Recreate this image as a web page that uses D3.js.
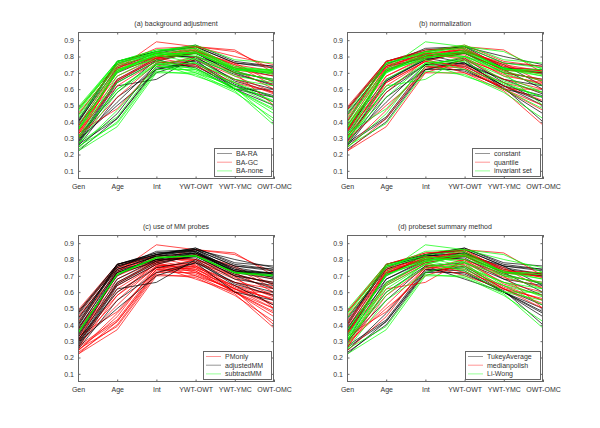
<!DOCTYPE html>
<html><head><meta charset="utf-8">
<script src="https://cdn.jsdelivr.net/npm/d3@7"></script>
<style>body{margin:0;background:#fff}svg{display:block}text{font-family:"Liberation Sans",Arial,Helvetica,sans-serif;font-size:7px;fill:#333}</style>
</head><body><svg id="c" width="600" height="428"></svg>
<script>
const categories = ["Gen","Age","Int","YWT-OWT","YWT-YMC","OWT-OMC"];
const yTicks = [0.1,0.2,0.3,0.4,0.5,0.6,0.7,0.8,0.9];

// one row per preprocessing combination: values at the six categories
const lineValues = [
 [0.40,0.77,0.83,0.86,0.76,0.74],
 [0.41,0.77,0.83,0.87,0.77,0.74],
 [0.39,0.76,0.82,0.86,0.76,0.73],
 [0.48,0.77,0.84,0.86,0.73,0.72],
 [0.47,0.77,0.84,0.85,0.72,0.71],
 [0.46,0.76,0.83,0.85,0.72,0.72],
 [0.33,0.72,0.80,0.84,0.73,0.70],
 [0.34,0.73,0.80,0.85,0.74,0.69],
 [0.32,0.71,0.79,0.84,0.72,0.68],
 [0.28,0.65,0.78,0.82,0.70,0.66],
 [0.27,0.64,0.77,0.83,0.71,0.65],
 [0.30,0.68,0.80,0.81,0.68,0.64],
 [0.26,0.62,0.66,0.80,0.65,0.58],
 [0.25,0.55,0.72,0.78,0.60,0.55],
 [0.36,0.70,0.83,0.87,0.78,0.76],
 [0.44,0.75,0.85,0.86,0.80,0.75],
 [0.31,0.60,0.75,0.79,0.64,0.52],
 [0.29,0.50,0.70,0.78,0.66,0.60],
 [0.30,0.72,0.89,0.86,0.83,0.72],
 [0.48,0.75,0.80,0.86,0.84,0.70],
 [0.45,0.74,0.79,0.83,0.75,0.62],
 [0.38,0.68,0.79,0.83,0.76,0.64],
 [0.36,0.66,0.78,0.82,0.72,0.60],
 [0.33,0.48,0.74,0.80,0.70,0.50],
 [0.30,0.55,0.76,0.78,0.68,0.58],
 [0.26,0.42,0.72,0.76,0.62,0.52],
 [0.22,0.42,0.73,0.75,0.60,0.50],
 [0.24,0.45,0.76,0.77,0.63,0.55],
 [0.28,0.52,0.75,0.74,0.62,0.56],
 [0.31,0.58,0.78,0.73,0.60,0.60],
 [0.23,0.40,0.72,0.72,0.60,0.45],
 [0.22,0.37,0.70,0.70,0.59,0.38],
 [0.25,0.39,0.71,0.69,0.58,0.42],
 [0.27,0.43,0.74,0.71,0.61,0.40],
 [0.35,0.64,0.77,0.70,0.62,0.53],
 [0.42,0.72,0.78,0.72,0.64,0.55],
 [0.47,0.76,0.81,0.76,0.66,0.62],
 [0.49,0.77,0.82,0.78,0.70,0.66],
 [0.37,0.70,0.80,0.80,0.73,0.68],
 [0.29,0.60,0.76,0.68,0.60,0.48],
 [0.32,0.65,0.79,0.75,0.66,0.57],
 [0.40,0.73,0.82,0.79,0.69,0.63],
 [0.35,0.71,0.81,0.82,0.72,0.70],
 [0.345,0.712,0.815,0.822,0.716,0.698],
 [0.356,0.706,0.808,0.826,0.722,0.706],
 [0.43,0.74,0.82,0.84,0.74,0.71],
 [0.38,0.72,0.81,0.83,0.73,0.69],
 [0.26,0.58,0.75,0.76,0.62,0.50],
 [0.34,0.62,0.77,0.74,0.64,0.58],
 [0.44,0.75,0.83,0.80,0.71,0.65],
 [0.29,0.66,0.79,0.82,0.70,0.62],
 [0.37,0.74,0.82,0.84,0.75,0.71],
 [0.24,0.47,0.74,0.73,0.60,0.47]
];
const baFactor   = ["RA","RA","RA","none","none","none","GC","GC","GC","RA","RA","none","RA","RA","none","GC","none","RA",
                    "GC","GC","GC","GC","GC","GC","GC","RA","RA","RA","RA","RA","none","none","none","none","none","none","none","none","RA","none","GC","RA",
                    "none","none","none",
                    "none","none","none","GC","none","RA","GC","none"];
const normFactor = ["constant","quantile","invariant","constant","quantile","invariant","constant","quantile","invariant","constant","quantile","quantile","invariant","constant","invariant","constant","constant","quantile",
                    "invariant","quantile","constant","quantile","constant","invariant","invariant","constant","quantile","invariant","constant","quantile","constant","quantile","invariant","constant","quantile","invariant","constant","quantile","invariant","invariant","constant","quantile",
                    "constant","quantile","invariant",
                    "quantile","invariant","constant","quantile","invariant","invariant","quantile","quantile"];
const pmFactor   = ["adj","adj","adj","adj","adj","adj","adj","adj","adj","adj","adj","adj","adj","adj","adj","adj","adj","adj",
                    "pm","pm","pm","pm","pm","pm","pm","pm","pm","pm","pm","pm","pm","pm","pm","pm","pm","pm","pm","pm","pm","pm","pm","pm",
                    "sub","sub","sub",
                    "adj","adj","pm","pm","pm","adj","adj","pm"];
const summFactor = ["tukey","tukey","tukey","mp","mp","lw","tukey","mp","lw","mp","lw","tukey","mp","lw","tukey","lw","lw","mp",
                    "lw","mp","mp","tukey","tukey","mp","tukey","tukey","tukey","mp","mp","lw","tukey","lw","lw","tukey","mp","mp","lw","lw","lw","tukey","lw","mp",
                    "tukey","mp","lw",
                    "tukey","mp","mp","lw","tukey","lw","tukey","tukey"];

const panelTitles = ["(a) background adjustment","(b) normalization","(c) use of MM probes","(d) probeset summary method"];
const legendKeysA = ["RA","GC","none"];           const legendLabelsA = ["BA-RA","BA-GC","BA-none"];
const legendKeysB = ["constant","quantile","invariant"]; const legendLabelsB = ["constant","quantile","invariant set"];
const legendKeysC = ["pm","adj","sub"];           const legendLabelsC = ["PMonly","adjustedMM","subtractMM"];
const legendKeysD = ["tukey","mp","lw"];          const legendLabelsD = ["TukeyAverage","medianpolish","Li-Wong"];
const colorsA = ["#000","#ff0000","#00ff00"];
const colorsB = ["#000","#ff0000","#00ff00"];
const colorsC = ["#ff0000","#000","#00ff00"];
const colorsD = ["#000","#ff0000","#00ff00"];

const panels = [
  {title:panelTitles[0], f:baFactor,   keys:legendKeysA, labels:legendLabelsA, colors:colorsA, x:78,  y:32},
  {title:panelTitles[1], f:normFactor, keys:legendKeysB, labels:legendLabelsB, colors:colorsB, x:347, y:32},
  {title:panelTitles[2], f:pmFactor,   keys:legendKeysC, labels:legendLabelsC, colors:colorsC, x:78,  y:235},
  {title:panelTitles[3], f:summFactor, keys:legendKeysD, labels:legendLabelsD, colors:colorsD, x:347, y:235}
];
const W = 196, H = 147;
const svg = d3.select("#c");
const x = d3.scalePoint().domain(categories).range([0, W]);
const y = d3.scaleLinear().domain([0.05, 0.95]).range([H, 0]);
const line = d3.line().x((d,i)=>x(categories[i])).y(d=>y(d));

panels.forEach((p,pi)=>{
  const g = svg.append("g").attr("transform",`translate(${p.x},${p.y})`);
  g.append("clipPath").attr("id","clip"+pi).append("rect").attr("width",W).attr("height",H);
  const lg = g.append("g").attr("clip-path",`url(#clip${pi})`);
  p.keys.forEach((k,ki)=>{
    lineValues.forEach((vals,li)=>{
      if (p.f[li] !== k) return;
      lg.append("path").attr("d",line(vals)).attr("fill","none")
        .attr("stroke",p.colors[ki]).attr("stroke-width",0.7).attr("stroke-linejoin","round");
    });
  });
  // axes box
  g.append("rect").attr("x",0.5).attr("y",0.5).attr("width",W-1).attr("height",H-1)
    .attr("fill","none").attr("stroke","#666").attr("stroke-width",1);
  const yl = g.append("g").call(d3.axisLeft(y).tickValues(yTicks).tickSize(-2.5).tickPadding(4).tickFormat(d3.format(".1f")));
  yl.select(".domain").remove();
  yl.selectAll("line").attr("stroke","#666");
  const yr = g.append("g").attr("transform",`translate(${W},0)`).call(d3.axisRight(y).tickValues(yTicks).tickSize(-2.5).tickFormat(""));
  yr.select(".domain").remove(); yr.selectAll("line").attr("stroke","#666");
  const xb = g.append("g").attr("transform",`translate(0,${H})`).call(d3.axisBottom(x).tickSize(-2.5).tickPadding(5));
  xb.select(".domain").remove(); xb.selectAll("line").attr("stroke","#666");
  const xt = g.append("g").call(d3.axisTop(x).tickSize(-2.5).tickFormat(""));
  xt.select(".domain").remove(); xt.selectAll("line").attr("stroke","#666");
  g.selectAll(".tick text").attr("fill","#333").style("font-size","7px")
    .style("font-family",'"Liberation Sans",Arial,sans-serif');
  g.append("text").attr("x",W/2).attr("y",-6).attr("text-anchor","middle").text(p.title);
  // legend
  const lgd = g.append("g");
  const texts = p.labels.map((t,i)=>lgd.append("text").text(t));
  const maxW = d3.max(texts, t=>t.node().getComputedTextLength());
  const bw = Math.round(22 + maxW + 8), bh = 28;
  const bx = W - 3 - bw, by = H - 3 - bh;
  lgd.insert("rect",":first-child").attr("x",bx+0.5).attr("y",by+0.5).attr("width",bw).attr("height",bh)
    .attr("fill","#fff").attr("stroke","#666").attr("stroke-width",1);
  p.labels.forEach((t,i)=>{
    const ly = by + 5.5 + i*8.7;
    lgd.append("line").attr("x1",bx+3).attr("x2",bx+18).attr("y1",ly).attr("y2",ly)
      .attr("stroke",p.colors[i]).attr("stroke-width",0.6).attr("stroke-opacity",0.7);
    texts[i].attr("x",bx+22).attr("y",ly+2.5);
  });
});
</script></body></html>
